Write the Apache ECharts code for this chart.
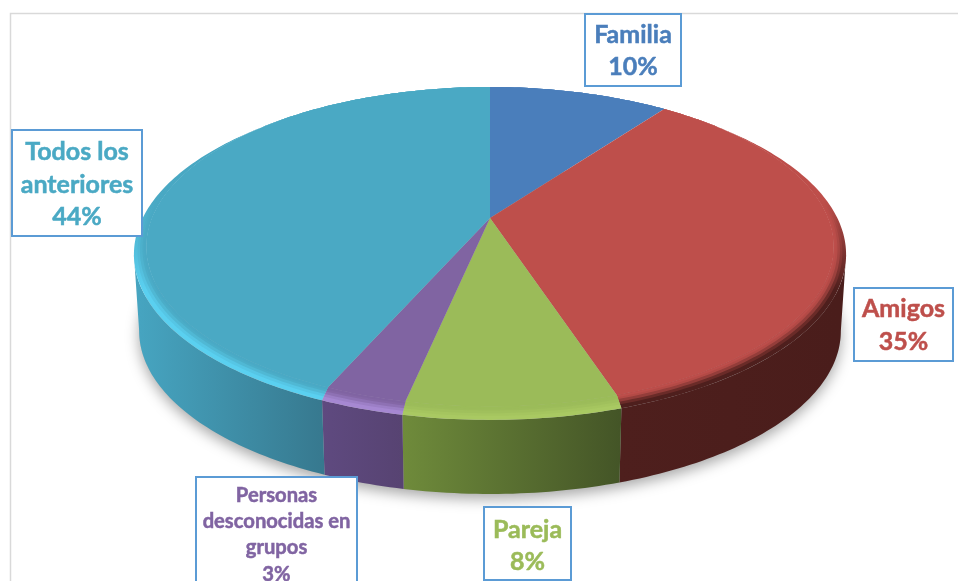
<!DOCTYPE html>
<html>
<head>
<meta charset="utf-8">
<style>
  html, body { margin: 0; padding: 0; background: #fff; }
  #chart { width: 958px; height: 581px; }
</style>
</head>
<body>
<div id="chart"></div>
<script src="https://cdn.jsdelivr.net/npm/echarts@6/dist/echarts.min.js"></script>
<script>
// datos (la porcion dibujada se ajusta a ojo, la etiqueta redondea)
const categories = ["Familia", "Amigos", "Pareja", "Personas desconocidas en grupos", "Todos los anteriores"];
const shares = [10.2, 34.85, 8.2, 3.2, 43.55];
const labelLines = [
  ["Familia"],
  ["Amigos"],
  ["Pareja"],
  ["Personas", "desconocidas en", "grupos"],
  ["Todos los", "anteriores"],
];

const colors = ["#4a7ebb", "#be4f4b", "#9bbb59", "#8064a2", "#4aa9c4"];
const rimColors = ["#4a7ebb", "#4e1f1d", "#a9c962", "#a688d2", "#5ad0f0"];
const wallStops = [
  ["#3b6596", "#3b6596"],
  ["#4e1f1d", "#4a1d1b"],
  ["#6f8b3b", "#445527"],
  ["#5f4a80", "#574372"],
  ["#46a4c0", "#37798f"],
];
const wallRanges = [[490, 665], [620, 840], [402, 620], [320, 402], [140, 322]];

// cajas de etiqueta: x, y, ancho, alto, tamano de letra, interlineado
const labelBoxes = [
  [585, 14, 96, 72, 25, 32],
  [854, 288, 99, 73, 25, 33],
  [484, 507, 87, 73, 25, 32],
  [196, 477, 161, 112, 20.2, 26.4],
  [12, 130, 130, 106, 25, 32.5],
];
const labelTop = [35, 309, 530, 495, 152];

// proyeccion en perspectiva del disco
const cx = 490, cy = 218, A = 344, B = 156.7, K = 0.1963;
const RIM_SCALE = 1.015, RIM_DROP = 4, FLAT_SCALE = 0.98, FLAT_DROP = -2.6, DEPTH = 81;
// la pared solo se ve entre estos angulos (donde la silueta es tangente)
const FRONT_FROM = 90 + 11.3, FRONT_TO = 270 - 11.3;
// capas del bisel: posicion entre borde y cara plana, opacidad del color de la cara
const bevelSteps = [[0.3, 0.25], [0.5, 0.5], [0.7, 0.75], [0.85, 0.9]];

function project(deg, scale, drop) {
  const t = deg * Math.PI / 180;
  const X = Math.sin(t), Y = Math.cos(t), w = 1 + K * Y;
  return [cx + scale * A * X / w, cy - scale * B * Y / w + drop];
}

function arc(from, to, scale, drop) {
  const pts = [];
  const n = Math.max(2, Math.ceil(to - from));
  for (let i = 0; i <= n; i++) pts.push(project(from + (to - from) * i / n, scale, drop));
  return pts;
}

function bevelArc(from, to, t) {
  return arc(from, to, RIM_SCALE + (FLAT_SCALE - RIM_SCALE) * t, RIM_DROP + (FLAT_DROP - RIM_DROP) * t);
}

const total = shares.reduce((a, b) => a + b, 0);
function sliceAngles(i) {
  const before = shares.slice(0, i).reduce((a, b) => a + b, 0);
  return [before / total * 360, (before + shares[i]) / total * 360];
}

function renderShadow() {
  return {
    type: "polygon",
    shape: { points: arc(0, 360, 1, DEPTH) },
    style: {
      fill: "#b9b9b9",
      shadowBlur: 14,
      shadowColor: "rgba(0,0,0,0.35)",
      shadowOffsetY: 5,
    },
  };
}

function renderWall(params) {
  const i = params.dataIndex;
  const [s0, s1] = sliceAngles(i);
  const a0 = Math.max(s0, FRONT_FROM), a1 = Math.min(s1, FRONT_TO);
  if (a1 <= a0) return null;
  const top = arc(a0, a1, RIM_SCALE, RIM_DROP);
  const bottom = arc(a0, a1, 1, DEPTH).reverse();
  return {
    type: "polygon",
    shape: { points: top.concat(bottom) },
    style: {
      fill: new echarts.graphic.LinearGradient(wallRanges[i][0], 0, wallRanges[i][1], 0, [
        { offset: 0, color: wallStops[i][0] },
        { offset: 1, color: wallStops[i][1] },
      ], true),
    },
  };
}

function renderTop(params) {
  const i = params.dataIndex;
  const [a0, a1] = sliceAngles(i);
  const inner = bevelArc(a0, a1, 1).reverse();
  const rimFill = new echarts.graphic.LinearGradient(0, 200, 0, 290, [
    { offset: 0, color: colors[i] },
    { offset: 1, color: rimColors[i] },
  ], true);
  const children = [{
    type: "polygon",
    shape: { points: bevelArc(a0, a1, 0).concat(inner) },
    style: { fill: rimFill },
  }];
  bevelSteps.forEach(([t, opacity]) => {
    children.push({
      type: "polygon",
      shape: { points: bevelArc(a0, a1, t).concat(inner) },
      style: { fill: colors[i], opacity },
    });
  });
  children.push({
    type: "polygon",
    shape: { points: [[cx, cy]].concat(bevelArc(a0, a1, 1)) },
    style: { fill: colors[i] },
  });
  return { type: "group", children };
}

function renderLabel(params) {
  const i = params.dataIndex;
  const [x, y, w, h, size, lead] = labelBoxes[i];
  const lines = labelLines[i].concat(Math.round(shares[i]) + "%");
  const children = [{
    type: "rect",
    shape: { x, y, width: w, height: h },
    style: { fill: "#fff", stroke: "#5b9bd5", lineWidth: 2 },
  }];
  lines.forEach((line, k) => {
    children.push({
      type: "text",
      style: {
        x: x + w / 2,
        y: labelTop[i] + k * lead,
        text: line,
        fill: colors[i],
        stroke: colors[i],
        lineWidth: 0.5,
        font: "bold " + size + "px Lato, 'Open Sans', sans-serif",
        align: "center",
        verticalAlign: "middle",
      },
    });
  });
  return { type: "group", children };
}

const chart = echarts.init(document.getElementById("chart"), null, { renderer: "canvas" });

chart.setOption({
  animation: false,
  backgroundColor: "#fff",
  graphic: [
    {
      type: "polyline",
      shape: { points: [[10.5, 581], [10.5, 13.5], [958, 13.5]] },
      style: { stroke: "#d9d9d9", lineWidth: 1.5, fill: null },
      z: 0,
    },
  ],
  series: [
    { type: "custom", coordinateSystem: "none", renderItem: renderShadow, data: [1], z: 1 },
    { type: "custom", coordinateSystem: "none", renderItem: renderWall, data: shares, z: 2, name: "laterales" },
    { type: "custom", coordinateSystem: "none", renderItem: renderTop, data: categories.map((c, i) => ({ name: c, value: shares[i] })), z: 3 },
    { type: "custom", coordinateSystem: "none", renderItem: renderLabel, data: shares, z: 4 },
  ],
});
</script>
</body>
</html>
